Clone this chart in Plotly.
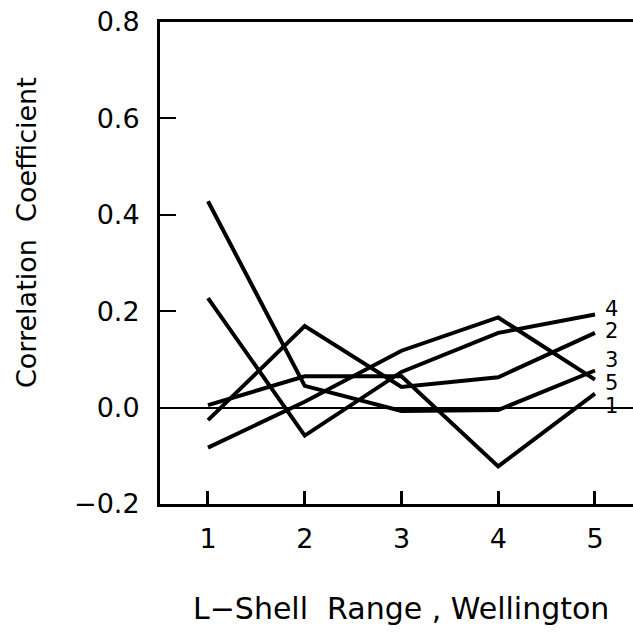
import plotly.graph_objects as go

# L-shell ranges along the x axis
l_shell = [1, 2, 3, 4, 5]

# Correlation coefficient for each numbered curve
curve_1 = [0.005, 0.065, 0.065, -0.122, 0.029]
curve_2 = [-0.026, 0.169, 0.043, 0.063, 0.155]
curve_3 = [0.428, 0.045, -0.007, -0.005, 0.077]
curve_4 = [0.227, -0.058, 0.074, 0.155, 0.193]
curve_5 = [-0.083, 0.012, 0.118, 0.187, 0.058]

curve_names = ["1", "2", "3", "4", "5"]
curves = [curve_1, curve_2, curve_3, curve_4, curve_5]

# Vertical pixel nudges for the end-of-curve labels so they don't collide
label_yshift = {"1": -12, "2": 2, "3": 10, "4": 6, "5": -3}

y_ticks = [-0.2, 0.0, 0.2, 0.4, 0.6, 0.8]
y_tick_text = ["\u22120.2", "0.0", "0.2", "0.4", "0.6", "0.8"]

FONT = "DejaVu Sans"

W, H = 633, 632
M_L, M_R, M_T, M_B = 160, 0, 22, 128
plot_w = W - M_L - M_R
plot_h = H - M_T - M_B

fig = go.Figure()
for name, vals in zip(curve_names, curves):
    fig.add_trace(go.Scatter(
        x=l_shell, y=vals, mode="lines", name=name,
        line=dict(color="black", width=4),
        showlegend=False,
    ))

for name, vals in zip(curve_names, curves):
    fig.add_annotation(
        x=l_shell[-1], y=vals[-1], text=name, showarrow=False,
        xanchor="left", yanchor="middle", xshift=8, yshift=label_yshift[name],
        font=dict(family=FONT, size=21, color="black"),
    )

# Axis titles placed as paper-anchored annotations
fig.add_annotation(
    x=(26 - M_L) / plot_w, y=(H - M_B - 233) / plot_h,
    xref="paper", yref="paper", text="Correlation  Coefficient",
    textangle=-90, showarrow=False, xanchor="center", yanchor="middle",
    font=dict(family=FONT, size=27, color="black"),
)
fig.add_annotation(
    x=(401 - M_L) / plot_w, y=(H - M_B - 608) / plot_h,
    xref="paper", yref="paper", text="L\u2212Shell  Range , Wellington",
    showarrow=False, xanchor="center", yanchor="middle",
    font=dict(family=FONT, size=30, color="black"),
)

fig.update_layout(
    width=W, height=H,
    margin=dict(l=M_L, r=M_R, t=M_T, b=M_B),
    paper_bgcolor="white", plot_bgcolor="white",
    font=dict(family=FONT, color="black"),
)

fig.update_xaxes(
    range=[0.504, 5.393],
    tickvals=l_shell, ticktext=[str(v) for v in l_shell],
    ticks="inside", ticklen=13, tickwidth=2.5, tickcolor="black",
    ticklabelstandoff=9,
    showline=True, linecolor="black", linewidth=3, mirror=True,
    showgrid=False, zeroline=False,
    tickfont=dict(family=FONT, size=27),
)

fig.update_yaxes(
    range=[-0.2, 0.8],
    tickvals=y_ticks, ticktext=y_tick_text,
    ticks="inside", ticklen=16, tickwidth=2, tickcolor="black",
    ticklabelstandoff=12,
    showline=True, linecolor="black", linewidth=3, mirror=False,
    showgrid=False,
    zeroline=True, zerolinecolor="black", zerolinewidth=2,
    tickfont=dict(family=FONT, size=27),
)

fig.write_html("out.html")
